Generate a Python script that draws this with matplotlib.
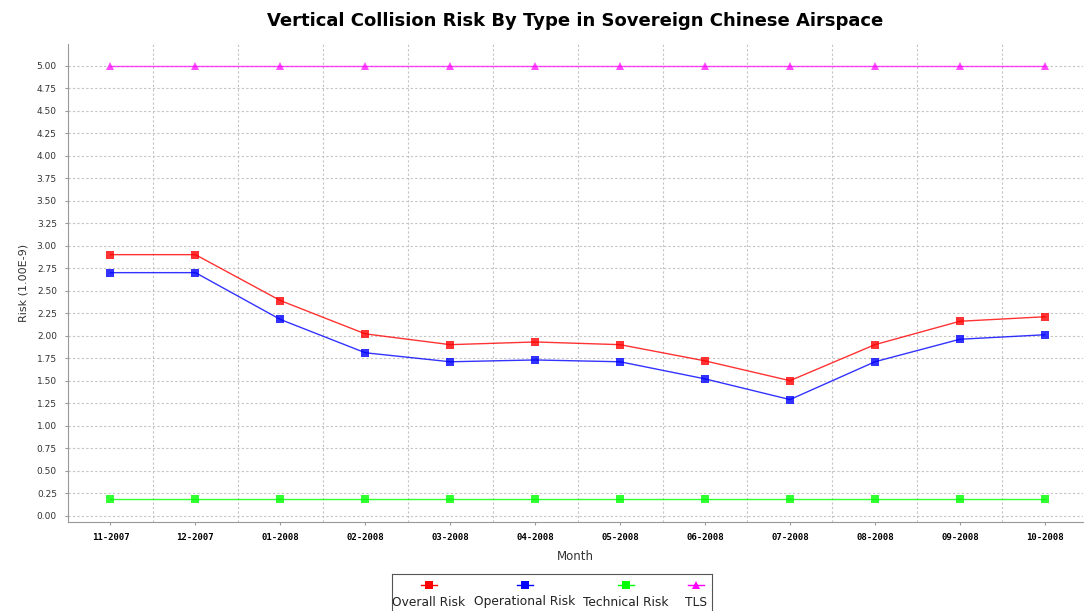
import matplotlib.pyplot as plt
import numpy as np
from matplotlib.lines import Line2D

months = ["11-2007", "12-2007", "01-2008", "02-2008", "03-2008", "04-2008",
          "05-2008", "06-2008", "07-2008", "08-2008", "09-2008", "10-2008"]
overall = [2.90, 2.90, 2.39, 2.02, 1.90, 1.93, 1.90, 1.72, 1.50, 1.90, 2.16, 2.21]
operational = [2.70, 2.70, 2.18, 1.81, 1.71, 1.73, 1.71, 1.52, 1.29, 1.71, 1.96, 2.01]
technical = [0.18, 0.18, 0.18, 0.18, 0.18, 0.18, 0.18, 0.18, 0.18, 0.18, 0.18, 0.18]
tls = [5.00, 5.00, 5.00, 5.00, 5.00, 5.00, 5.00, 5.00, 5.00, 5.00, 5.00, 5.00]

series = [
    ("Overall Risk", overall, "#ff0000", "s"),
    ("Operational Risk", operational, "#0000ff", "s"),
    ("Technical Risk", technical, "#00ff00", "s"),
    ("TLS", tls, "#ff00ff", "^"),
]

W, H = 1086, 611
fig = plt.figure(figsize=(W / 100, H / 100), dpi=100)
fig.patch.set_facecolor("white")

# plot area in pixels: left 68, right 1083, top 44, bottom 522
ax = fig.add_axes([68 / W, 1 - 522 / H, (1083 - 68) / W, (522 - 44) / H])

x = np.arange(len(months))
for name, vals, col, mk in series:
    ax.plot(x, vals, color=col, marker=mk, markersize=6, linewidth=1.0,
            label=name, alpha=0.8 if mk == "s" else 0.7,
            markeredgewidth=0)

ax.set_xlim(-0.5, 11.45)
ax.set_ylim(-0.07, 5.24)
ax.set_yticks(np.arange(0, 5.01, 0.25))
ax.set_yticklabels(["%.2f" % v for v in np.arange(0, 5.01, 0.25)], fontsize=6.5,
                   color="#333333")
ax.set_xticks(x)
ax.set_xticklabels(months, fontsize=6.5, fontweight="bold", family="DejaVu Sans Mono")

# grid lines between categories and at y ticks
ax.set_xticks(np.arange(-0.5, 11.5, 1.0)[1:], minor=True)
ax.grid(True, which="minor", axis="x", color="#c4c4c4", linestyle=(0, (2, 2)), linewidth=0.8)
ax.grid(True, which="major", axis="y", color="#c4c4c4", linestyle=(0, (2, 2)), linewidth=0.8)
ax.tick_params(axis="x", which="minor", length=0)
ax.tick_params(axis="both", which="major", length=2, color="#999999", pad=6)

for s in ["top", "right"]:
    ax.spines[s].set_visible(False)
ax.spines["left"].set_color("#999999")
ax.spines["bottom"].set_color("#999999")

ax.set_ylabel("Risk (1.00E-9)", fontsize=8, color="#333333", labelpad=6)
ax.set_xlabel("Month", fontsize=8.5, color="#333333", labelpad=6)
ax.set_title("Vertical Collision Risk By Type in Sovereign Chinese Airspace",
             fontsize=13, fontweight="bold", pad=13)

# legend box in the JFreeChart style (marker above label)
lax = fig.add_axes([392 / W, -2 / H, (712 - 392) / W, 39 / H])
lax.set_xlim(0, 320)
lax.set_ylim(0, 39)
lax.set_xticks([])
lax.set_yticks([])
for sp in lax.spines.values():
    sp.set_color("#555555")
    sp.set_linewidth(0.8)
centers = [37, 133, 234, 304]
for (name, vals, col, mk), cx in zip(series, centers):
    lax.add_line(Line2D([cx - 8, cx + 8], [28, 28], color=col, linewidth=1.0))
    lax.plot([cx], [28], marker=mk, color=col, markersize=6, markeredgewidth=0)
    lax.text(cx, 11, name, fontsize=8.8, ha="center", va="center", color="#222222")

fig.savefig("out.png", dpi=100)
